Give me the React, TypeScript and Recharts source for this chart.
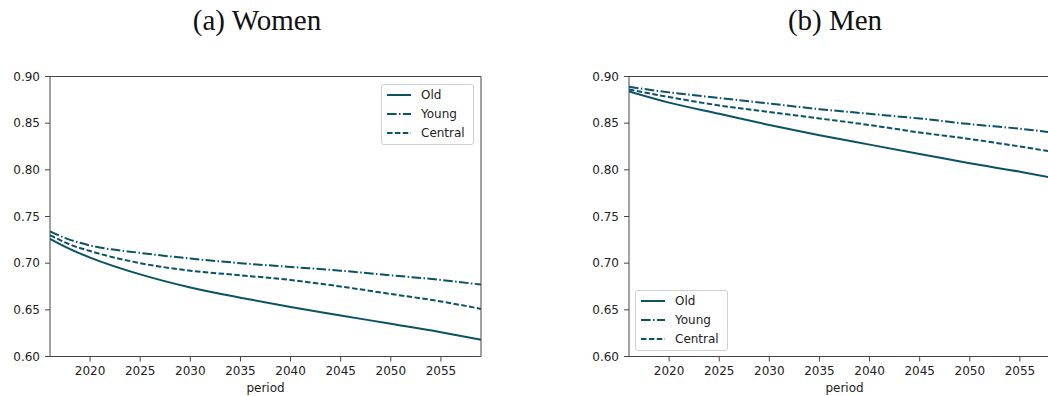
import { Line, LineChart, ReferenceArea, XAxis, YAxis } from 'recharts'

const LINE_COLOR = '#0a5264'
const AXIS_COLOR = '#444'
const TEXT_COLOR = '#222'
const FONT = '"DejaVu Sans", sans-serif'

const yTicks = [0.6, 0.65, 0.7, 0.75, 0.8, 0.85, 0.9]
const xTicks = [2020, 2025, 2030, 2035, 2040, 2045, 2050, 2055]

const womenYears = [2016, 2018, 2020, 2025, 2030, 2035, 2040, 2045, 2050, 2055, 2059]
const womenOld = [0.726, 0.715, 0.706, 0.688, 0.674, 0.663, 0.653, 0.644, 0.635, 0.626, 0.618]
const womenYoung = [0.734, 0.725, 0.719, 0.711, 0.705, 0.7, 0.696, 0.692, 0.687, 0.682, 0.677]
const womenCentral = [0.73, 0.72, 0.713, 0.7, 0.692, 0.687, 0.682, 0.675, 0.667, 0.659, 0.651]

const menYears = [2016, 2020, 2025, 2030, 2035, 2040, 2045, 2050, 2055, 2059]
const menOld = [0.884, 0.872, 0.86, 0.848, 0.837, 0.827, 0.817, 0.807, 0.798, 0.79]
const menYoung = [0.889, 0.883, 0.877, 0.871, 0.865, 0.86, 0.855, 0.849, 0.844, 0.839]
const menCentral = [0.886, 0.878, 0.869, 0.862, 0.855, 0.848, 0.84, 0.833, 0.825, 0.818]

type SeriesDef = { key: string; label: string; dash?: string }

const SERIES: SeriesDef[] = [
  { key: 'old', label: 'Old' },
  { key: 'young', label: 'Young', dash: '9.6 2.4 1.5 2.4' },
  { key: 'central', label: 'Central', dash: '5.5 2.4' },
]

function buildRows(years: number[], old: number[], young: number[], central: number[]) {
  return years.map((year, i) => ({ year, old: old[i], young: young[i], central: central[i] }))
}

const womenRows = buildRows(womenYears, womenOld, womenYoung, womenCentral)
const menRows = buildRows(menYears, menOld, menYoung, menCentral)

type PanelProps = {
  rows: ReturnType<typeof buildRows>
  left: number
  title: string
  titleCenter: number
  legendPos: { left: number; top: number }
}

function LegendBox({ left, top }: { left: number; top: number }) {
  return (
    <div
      style={{
        position: 'absolute',
        left,
        top,
        width: 93,
        height: 61,
        boxSizing: 'border-box',
        border: '1px solid #d0d0d0',
        borderRadius: 3,
        background: 'rgba(255,255,255,0.8)',
        padding: 0,
        fontFamily: FONT,
        fontSize: 12,
        color: TEXT_COLOR,
      }}
    >
      {SERIES.map((s) => (
        <div key={s.key} style={{ display: 'flex', alignItems: 'center', height: 19 }}>
          <svg width={24} height={6} style={{ marginLeft: 5, marginRight: 10 }}>
            <line x1={0} y1={3} x2={24} y2={3} stroke={LINE_COLOR} strokeWidth={2} strokeDasharray={s.dash} />
          </svg>
          <span>{s.label}</span>
        </div>
      ))}
    </div>
  )
}

function Panel({ rows, left, title, titleCenter, legendPos }: PanelProps) {
  return (
    <>
      <div
        style={{
          position: 'absolute',
          left: titleCenter - 150,
          width: 300,
          top: 0,
          textAlign: 'center',
          fontFamily: '"Liberation Serif", serif',
          fontSize: 29,
          lineHeight: '40px',
          color: '#111',
        }}
      >
        {title}
      </div>
      <div style={{ position: 'absolute', left, top: 0 }}>
        <LineChart width={500} height={396} data={rows} margin={{ top: 76.5, right: 19, bottom: 0, left: 0 }}>
          <XAxis
            dataKey="year"
            type="number"
            domain={[2016, 2059]}
            ticks={xTicks}
            allowDataOverflow
            height={39.5}
            axisLine={false}
            tickSize={5}
            tickMargin={5}
            tickLine={{ stroke: AXIS_COLOR }}
            tick={{ fill: TEXT_COLOR, fontSize: 12, fontFamily: FONT }}
            label={{ value: 'period', position: 'insideBottom', offset: 4, fill: TEXT_COLOR, fontSize: 12, fontFamily: FONT }}
          />
          <YAxis
            type="number"
            domain={[0.6, 0.9]}
            ticks={yTicks}
            allowDataOverflow
            width={50}
            axisLine={false}
            tickSize={5}
            tickMargin={5}
            tickLine={{ stroke: AXIS_COLOR }}
            tickFormatter={(v: number) => v.toFixed(2)}
            tick={{ fill: TEXT_COLOR, fontSize: 12, fontFamily: FONT }}
          />
          <ReferenceArea x1={2016} x2={2059} y1={0.6} y2={0.9} fill="none" stroke={AXIS_COLOR} strokeWidth={1} />
          {SERIES.map((s) => (
            <Line
              key={s.key}
              dataKey={s.key}
              type="monotone"
              stroke={LINE_COLOR}
              strokeWidth={2}
              strokeDasharray={s.dash}
              dot={false}
              activeDot={false}
              isAnimationActive={false}
            />
          ))}
        </LineChart>
      </div>
      <LegendBox left={legendPos.left} top={legendPos.top} />
    </>
  )
}

export default function App() {
  return (
    <div
      style={{
        position: 'fixed',
        left: 0,
        top: 0,
        width: 1048,
        height: 396,
        overflow: 'hidden',
        background: '#fff',
      }}
    >
      <Panel rows={womenRows} left={0} title="(a) Women" titleCenter={257} legendPos={{ left: 381, top: 84 }} />
      <Panel rows={menRows} left={579} title="(b) Men" titleCenter={835} legendPos={{ left: 635, top: 290 }} />
    </div>
  )
}
